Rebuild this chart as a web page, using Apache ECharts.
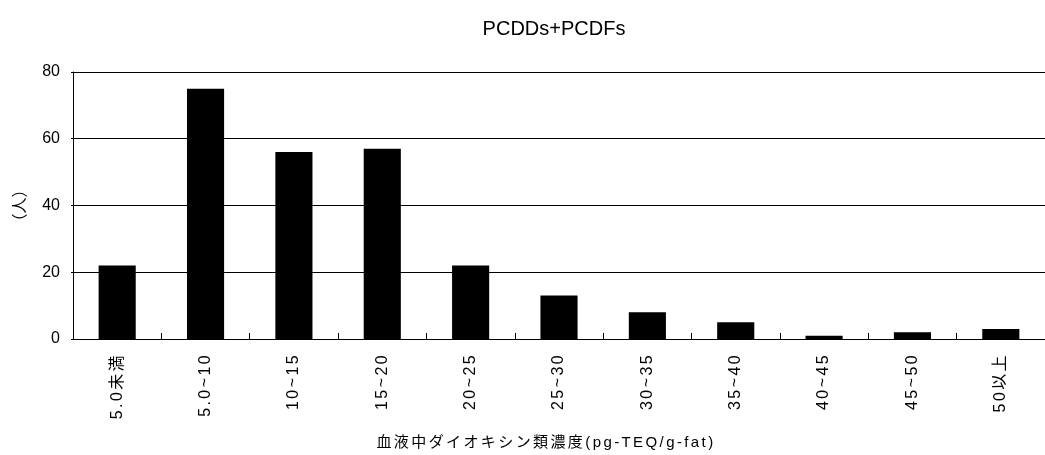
<!DOCTYPE html>
<html>
<head>
<meta charset="utf-8">
<script src="https://cdn.jsdelivr.net/npm/echarts@6/dist/echarts.min.js"></script>
<style>
html,body{margin:0;padding:0;background:#fff;}
#chart{width:1045px;height:455px;}
</style>
</head>
<body>
<div id="chart"></div>
<script>
// Data
const categories = ['5.0未満','5.0~10','10~15','15~20','20~25','25~30','30~35','35~40','40~45','45~50','50以上'];
const counts = [22, 75, 56, 57, 22, 13, 8, 5, 1, 2, 3];
const yTicks = [0, 20, 40, 60, 80];
const chartTitle = 'PCDDs+PCDFs';
const xAxisName = '血液中ダイオキシン類濃度(pg-TEQ/g-fat)';
const yAxisName = '（人）';

// letter-spaced text for fonts marked "spaced"
(function(){
  const proto = CanvasRenderingContext2D.prototype;
  const orig = proto.fillText;
  proto.fillText = function(t, x, y, m){
    try { this.letterSpacing = (this.font.indexOf('spaced') >= 0) ? '2.4px' : '0px'; } catch(e){}
    return m === undefined ? orig.call(this, t, x, y) : orig.call(this, t, x, y, m);
  };
})();

const SPACED = 'spaced, "Liberation Sans", "Noto Sans CJK JP", sans-serif';
const PLAIN = '"Liberation Sans", "Noto Sans CJK JP", sans-serif';

const chart = echarts.init(document.getElementById('chart'), null, {renderer:'canvas'});
chart.setOption({
  animation: false,
  backgroundColor: '#fff',
  title: {
    text: chartTitle,
    left: 549,
    textAlign: 'center',
    top: 14,
    textStyle: {
      fontFamily: '"Liberation Sans", sans-serif',
      fontSize: 20, fontWeight: 'normal', color: '#000'
    }
  },
  grid: { left: 73, right: -9, top: 72, bottom: 116, containLabel: false },
  xAxis: {
    type: 'category',
    data: categories,
    name: xAxisName,
    nameLocation: 'middle',
    nameGap: 96,
    nameTextStyle: { fontFamily: SPACED, fontSize: 15, color: '#000', padding: [0, 26, 0, 0] },
    axisLine: { lineStyle: { color: '#000', width: 1 } },
    axisTick: { show: true, inside: true, length: 6, lineStyle: { color: '#000' } },
    axisLabel: { rotate: 90, margin: 14, fontFamily: SPACED, fontSize: 16, color: '#000', interval: 0 }
  },
  yAxis: {
    type: 'value',
    min: yTicks[0],
    max: yTicks[yTicks.length - 1],
    interval: yTicks[1] - yTicks[0],
    name: yAxisName,
    nameLocation: 'middle',
    nameRotate: 90,
    nameGap: 46,
    nameTextStyle: { fontFamily: '"Noto Sans CJK JP", sans-serif', fontSize: 16, color: '#000' },
    axisLine: { show: true, lineStyle: { color: '#000', width: 1 } },
    axisTick: { show: true, length: 2, lineStyle: { color: '#000' } },
    axisLabel: { margin: 13, fontFamily: PLAIN, fontSize: 16, color: '#000' },
    splitLine: { show: true, lineStyle: { color: '#000', width: 1 } }
  },
  series: [{
    type: 'bar',
    data: counts,
    barCategoryGap: '58%',
    itemStyle: { color: '#000' }
  }]
});
</script>
</body>
</html>
